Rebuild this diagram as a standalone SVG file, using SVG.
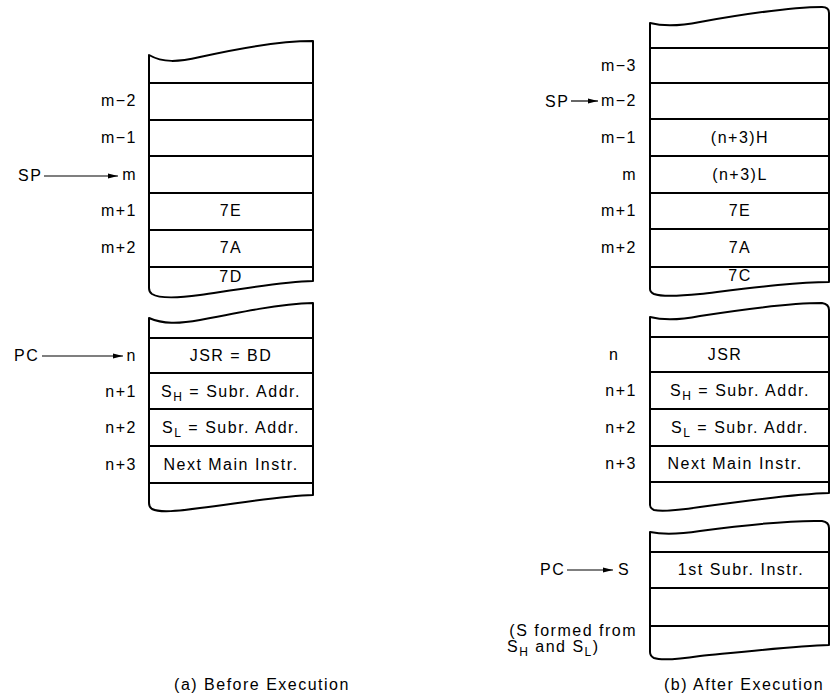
<svg xmlns="http://www.w3.org/2000/svg" width="833" height="698" viewBox="0 0 833 698">
<style>
 .box{fill:none;stroke:#000;stroke-width:2;stroke-linejoin:round}
 .row{stroke:#000;stroke-width:2}
 text{font-family:"Liberation Sans",Arial,sans-serif;font-size:16px;fill:#000;letter-spacing:1.5px}
 .c{text-anchor:middle}
 .r{text-anchor:end}
 .arr{stroke:#000;stroke-width:1.2;fill:none;marker-end:url(#ah)}
 .sub{font-size:12px}
</style>
<defs>
 <marker id="ah" markerUnits="userSpaceOnUse" markerWidth="10" markerHeight="6" refX="10" refY="3" orient="auto">
  <path d="M0,0.5 L10,3 L0,5.5z" fill="#000"/>
 </marker>
</defs>
<rect width="833" height="698" fill="#fff"/>

<g id="stack-a-data">
 <path class="box" d="M149,55 C163,63 178,62 200,57 C240,48 280,41 313,41 L313,281 C280,282 240,289 200,295 C178,298 160,299 152,294 Q149,292 149,288 Z"/>
 <line class="row" x1="149" y1="83" x2="313" y2="83"/>
 <line class="row" x1="149" y1="120" x2="313" y2="120"/>
 <line class="row" x1="149" y1="156" x2="313" y2="156"/>
 <line class="row" x1="149" y1="193" x2="313" y2="193"/>
 <line class="row" x1="149" y1="230" x2="313" y2="230"/>
 <line class="row" x1="149" y1="267" x2="313" y2="267"/>
 <text class="r" x="137" y="106">m−2</text>
 <text class="r" x="137" y="143">m−1</text>
 <text class="r" x="137" y="180">m</text>
 <text class="r" x="137" y="216">m+1</text>
 <text class="r" x="137" y="253">m+2</text>
 <text class="c" x="231" y="216">7E</text>
 <text class="c" x="231" y="253">7A</text>
 <text class="c" x="231" y="282">7D</text>
 <text x="18" y="181">SP</text>
</g>

<g id="stack-a-prog">
 <path class="box" d="M149,318 C163,324 178,324 200,320 C240,312 280,304 313,303 L313,495 C280,496 240,503 200,508 C178,511 160,513 152,509 Q149,507 149,503 Z"/>
 <line class="row" x1="149" y1="338" x2="313" y2="338"/>
 <line class="row" x1="149" y1="373" x2="313" y2="373"/>
 <line class="row" x1="149" y1="409" x2="313" y2="409"/>
 <line class="row" x1="149" y1="446" x2="313" y2="446"/>
 <line class="row" x1="149" y1="483" x2="313" y2="483"/>
 <text class="r" x="137" y="361">n</text>
 <text class="r" x="137" y="397">n+1</text>
 <text class="r" x="137" y="433">n+2</text>
 <text class="r" x="137" y="470">n+3</text>
 <text class="c" x="231" y="361">JSR = BD</text>
 <text class="c" x="231" y="397">S<tspan class="sub" dy="4">H</tspan><tspan dy="-4"> = Subr. Addr.</tspan></text>
 <text class="c" x="231" y="433">S<tspan class="sub" dy="4">L</tspan><tspan dy="-4"> = Subr. Addr.</tspan></text>
 <text class="c" x="231" y="470">Next Main Instr.</text>
 <text x="14" y="361">PC</text>
</g>

<g id="stack-b-data">
 <path class="box" d="M650,23 C665,27 680,26 700,22 C745,14 790,7 822,7 Q829,7 829,13 L829,282 C795,282 750,288 700,294 C680,296 662,297 654,294 Q650,292 650,289 Z"/>
 <line class="row" x1="650" y1="48" x2="829" y2="48"/>
 <line class="row" x1="650" y1="83" x2="829" y2="83"/>
 <line class="row" x1="650" y1="119" x2="829" y2="119"/>
 <line class="row" x1="650" y1="156" x2="829" y2="156"/>
 <line class="row" x1="650" y1="193" x2="829" y2="193"/>
 <line class="row" x1="650" y1="229" x2="829" y2="229"/>
 <line class="row" x1="650" y1="267" x2="829" y2="267"/>
 <text class="r" x="637" y="71">m−3</text>
 <text class="r" x="637" y="106">m−2</text>
 <text class="r" x="637" y="143">m−1</text>
 <text class="r" x="637" y="180">m</text>
 <text class="r" x="637" y="216">m+1</text>
 <text class="r" x="637" y="253">m+2</text>
 <text class="c" x="740" y="143">(n+3)H</text>
 <text class="c" x="740" y="180">(n+3)L</text>
 <text class="c" x="740" y="216">7E</text>
 <text class="c" x="740" y="253">7A</text>
 <text class="c" x="740" y="281">7C</text>
 <text x="545" y="107">SP</text>
</g>

<g id="stack-b-prog">
 <path class="box" d="M650,317 C665,321 680,320 700,316 C745,309 790,303 822,303 Q829,304 829,310 L829,493 C795,494 750,500 700,507 C680,510 662,512 654,510 Q650,508 650,505 Z"/>
 <line class="row" x1="650" y1="337" x2="829" y2="337"/>
 <line class="row" x1="650" y1="372" x2="829" y2="372"/>
 <line class="row" x1="650" y1="409" x2="829" y2="409"/>
 <line class="row" x1="650" y1="446" x2="829" y2="446"/>
 <line class="row" x1="650" y1="482" x2="829" y2="482"/>
 <text x="609" y="360">n</text>
 <text class="r" x="637" y="396">n+1</text>
 <text class="r" x="637" y="433">n+2</text>
 <text class="r" x="637" y="469">n+3</text>
 <text class="c" x="725" y="360">JSR</text>
 <text class="c" x="740" y="396">S<tspan class="sub" dy="4">H</tspan><tspan dy="-4"> = Subr. Addr.</tspan></text>
 <text class="c" x="740" y="433">S<tspan class="sub" dy="4">L</tspan><tspan dy="-4"> = Subr. Addr.</tspan></text>
 <text class="c" x="735" y="469">Next Main Instr.</text>
</g>

<g id="stack-b-sub">
 <path class="box" d="M650,532 C665,535 680,534 700,531 C745,525 790,520 822,521 Q829,522 829,528 L829,645 C795,646 750,651 700,656 C680,659 662,661 654,658 Q650,656 650,652 Z"/>
 <line class="row" x1="650" y1="552" x2="829" y2="552"/>
 <line class="row" x1="650" y1="588" x2="829" y2="588"/>
 <line class="row" x1="650" y1="626" x2="829" y2="626"/>
 <text x="618" y="575">S</text>
 <text class="c" x="741" y="575">1st Subr. Instr.</text>
 <text x="540" y="575">PC</text>
 <text class="r" x="637" y="636">(S formed from</text>
 <text x="507" y="652">S<tspan class="sub" dy="4">H</tspan><tspan dy="-4"> and S</tspan><tspan class="sub" dy="4">L</tspan><tspan dy="-4">)</tspan></text>
</g>

<g id="connectors">
 <line class="arr" x1="44" y1="176" x2="118" y2="176"/>
 <line class="arr" x1="42" y1="356" x2="123" y2="356"/>
 <line class="arr" x1="571" y1="101" x2="598" y2="101"/>
 <line class="arr" x1="567" y1="570" x2="613" y2="570"/>
</g>

<g id="captions">
 <text class="c" x="262" y="690">(a)  Before Execution</text>
 <text class="c" x="744" y="690">(b)  After Execution</text>
</g>
</svg>
